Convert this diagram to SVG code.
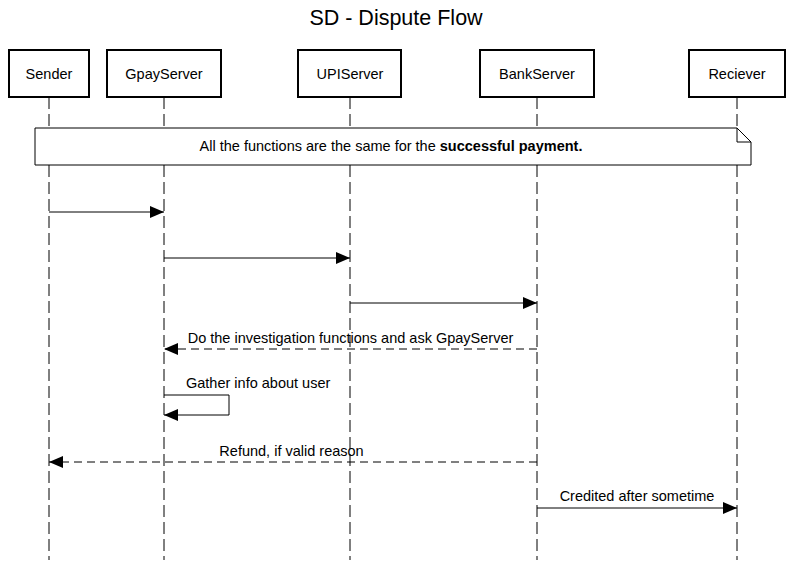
<svg xmlns="http://www.w3.org/2000/svg" width="791" height="564" viewBox="0 0 791 564">
<style>
text{font-family:"Liberation Sans",Arial,sans-serif;fill:#000}
.t{font-size:14.5px}
.box{fill:#fff;stroke:#000;stroke-width:2}
.life{stroke:#000;stroke-width:1;stroke-dasharray:12 5;fill:none}
.msg{stroke:#000;stroke-width:1;fill:none}
.dash{stroke-dasharray:8 5}
</style>
<defs>
<marker id="ah" markerWidth="14" markerHeight="12" refX="14" refY="6" orient="auto" markerUnits="userSpaceOnUse">
<path d="M0,0 L14,6 L0,12 Z" fill="#000"/>
</marker>
</defs>
<rect width="791" height="564" fill="#fff"/>
<text x="396" y="25" text-anchor="middle" style="font-size:21.5px">SD - Dispute Flow</text>

<g id="lifelines">
<line class="life" x1="49" y1="97" x2="49" y2="560"/>
<line class="life" x1="164" y1="97" x2="164" y2="560"/>
<line class="life" x1="350" y1="97" x2="350" y2="560"/>
<line class="life" x1="537" y1="97" x2="537" y2="560"/>
<line class="life" x1="737" y1="97" x2="737" y2="560"/>
</g>

<g id="sender"><rect class="box" x="9" y="50" width="80" height="47"/><text class="t" x="49" y="79" text-anchor="middle">Sender</text></g>
<g id="gpay"><rect class="box" x="107" y="50" width="114" height="47"/><text class="t" x="164" y="79" text-anchor="middle">GpayServer</text></g>
<g id="upi"><rect class="box" x="298" y="50" width="103" height="47"/><text class="t" x="350" y="79" text-anchor="middle">UPIServer</text></g>
<g id="bank"><rect class="box" x="480" y="50" width="114" height="47"/><text class="t" x="537" y="79" text-anchor="middle">BankServer</text></g>
<g id="reciever"><rect class="box" x="689" y="50" width="96" height="47"/><text class="t" x="737" y="79" text-anchor="middle">Reciever</text></g>

<g id="note">
<path d="M35,128 H737 L751,142 V165 H35 Z" fill="#fff" stroke="#000" stroke-width="1"/>
<path d="M737,128 V142 H751" fill="none" stroke="#000" stroke-width="1"/>
<text class="t" x="391" y="151" text-anchor="middle">All the functions are the same for the <tspan font-weight="bold">successful payment.</tspan></text>
</g>

<g id="connectors">
<line class="msg" x1="49" y1="212" x2="164" y2="212" marker-end="url(#ah)"/>
<line class="msg" x1="164" y1="258" x2="350" y2="258" marker-end="url(#ah)"/>
<line class="msg" x1="350" y1="303" x2="537" y2="303" marker-end="url(#ah)"/>
<line class="msg dash" x1="537" y1="349" x2="164" y2="349" marker-end="url(#ah)"/>
<text class="t" x="350.5" y="343" text-anchor="middle">Do the investigation functions and ask GpayServer</text>
<path class="msg" d="M164,395 H229 V415 H164" marker-end="url(#ah)"/>
<text class="t" x="186" y="388">Gather info about user</text>
<line class="msg dash" x1="537" y1="462" x2="49" y2="462" marker-end="url(#ah)"/>
<text class="t" x="291.5" y="456" text-anchor="middle">Refund, if valid reason</text>
<line class="msg" x1="537" y1="508" x2="737" y2="508" marker-end="url(#ah)"/>
<text class="t" x="637" y="501" text-anchor="middle">Credited after sometime</text>
</g>
</svg>
